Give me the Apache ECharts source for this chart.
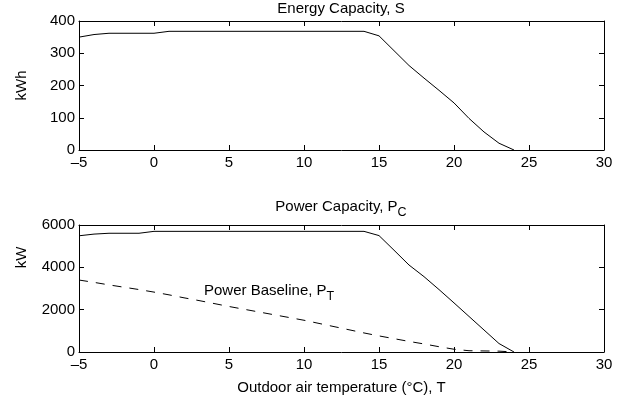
<!DOCTYPE html>
<html><head><meta charset="utf-8">
<script src="https://cdn.jsdelivr.net/npm/echarts@6/dist/echarts.min.js"></script>
<style>html,body{margin:0;padding:0;background:#fff}#c{width:625px;height:402px}</style>
</head><body><div id="c"></div>
<script>
// Outdoor air temperature (°C)
const temps = [-5,-4,-3,-2,-1,0,1,2,3,4,5,6,7,8,9,10,11,12,13,14,15,16,17,18,19,20,21,22,23,24];
// Energy Capacity, S (kWh)
const energyS = [350,358,362,362,362,362,368,368,368,368,368,368,368,368,368,368,368,368,368,368,354,308,262,223,185,146,98,56,21,0];
// Power Capacity, P_C (kW)
const powerPC = [5490,5570,5610,5610,5610,5700,5700,5700,5700,5700,5700,5700,5700,5700,5700,5700,5700,5700,5700,5700,5500,4810,4110,3560,2950,2320,1680,1040,400,0];
// Power Baseline, P_T (kW)
const powerPT = [3400,3290,3170,3060,2950,2830,2700,2560,2430,2290,2150,2020,1890,1760,1630,1500,1350,1200,1050,900,760,630,500,380,250,130,60,50,40,0];

const xMin = -5, xMax = 30, xStep = 5;
const energyTicks = {min: 0, max: 400, step: 100};
const powerTicks = {min: 0, max: 6000, step: 2000};

const FONT = "'Liberation Sans', Arial, Helvetica, sans-serif";
const FS = 15;
const black = '#000';

function xAxisDef(grid, pos, withLabels, name) {
  return {
    gridIndex: grid, type: 'value', position: pos, min: xMin, max: xMax, interval: xStep,
    axisLine: {onZero: false, lineStyle: {color: black, width: 1}},
    axisTick: {show: true, inside: true, length: 5, lineStyle: {color: black, width: 1}},
    axisLabel: {show: withLabels, color: black, fontFamily: FONT, fontSize: FS, margin: 5,
      formatter: v => String(v).replace('-', '\u2013')},
    splitLine: {show: false},
    name: name || '', nameLocation: 'middle', nameGap: 28,
    nameTextStyle: {color: black, fontFamily: FONT, fontSize: FS}
  };
}
function yAxisDef(grid, pos, withLabels, t, name, pad) {
  return {
    gridIndex: grid, type: 'value', position: pos, min: t.min, max: t.max, interval: t.step,
    axisLine: {onZero: false, lineStyle: {color: black, width: 1}},
    axisTick: {show: true, inside: true, length: 5, lineStyle: {color: black, width: 1}},
    axisLabel: {show: withLabels, color: black, fontFamily: FONT, fontSize: FS, margin: 4,
      formatter: v => String(v)},
    splitLine: {show: false},
    name: name || '', nameLocation: 'middle', nameGap: 50, nameRotate: 90,
    nameTextStyle: {color: black, fontFamily: FONT, fontSize: FS, padding: pad || 0}
  };
}

const chart = echarts.init(document.getElementById('c'), null, {renderer: 'canvas'});
chart.setOption({
  backgroundColor: '#fff',
  animation: false,
  grid: [
    {left: 79, top: 21, width: 525, height: 129},
    {left: 79, top: 225, width: 525, height: 127}
  ],
  xAxis: [
    xAxisDef(0, 'bottom', true),
    xAxisDef(0, 'top', false),
    xAxisDef(1, 'bottom', true, 'Outdoor air temperature (\u00B0C), T'),
    xAxisDef(1, 'top', false)
  ],
  yAxis: [
    yAxisDef(0, 'left', true, energyTicks, 'kWh'),
    yAxisDef(0, 'right', false, energyTicks),
    yAxisDef(1, 'left', true, powerTicks, 'kW', [0, 0, 0, 62]),
    yAxisDef(1, 'right', false, powerTicks)
  ],
  graphic: [
    {type: 'text', x: 341, y: 9, style: {text: 'Energy Capacity, S', fill: black, font: FS + 'px ' + FONT, align: 'center', verticalAlign: 'middle'}},
    {type: 'text', x: 341, y: 207, style: {text: 'Power Capacity, P{sub|C}', fill: black, font: FS + 'px ' + FONT, align: 'center', verticalAlign: 'middle',
      rich: {sub: {fontSize: 12.5, fontFamily: FONT, fill: black, padding: [12, 0, 0, 0]}}}},
    {type: 'text', x: 204, y: 291, style: {text: 'Power Baseline, P{sub|T}', fill: black, font: FS + 'px ' + FONT, align: 'left', verticalAlign: 'middle',
      rich: {sub: {fontSize: 12.5, fontFamily: FONT, fill: black, padding: [12, 0, 0, 0]}}}}
  ],
  series: [
    {type: 'line', xAxisIndex: 0, yAxisIndex: 0, data: temps.map((t, i) => [t, energyS[i]]),
      showSymbol: false, symbol: 'none', lineStyle: {color: black, width: 1}},
    {type: 'line', xAxisIndex: 2, yAxisIndex: 2, data: temps.map((t, i) => [t, powerPC[i]]),
      showSymbol: false, symbol: 'none', lineStyle: {color: black, width: 1}},
    {type: 'line', xAxisIndex: 2, yAxisIndex: 2, data: temps.map((t, i) => [t, powerPT[i]]),
      showSymbol: false, symbol: 'none', lineStyle: {color: black, width: 1, type: [9, 8]}}
  ]
});
</script>
</body></html>
